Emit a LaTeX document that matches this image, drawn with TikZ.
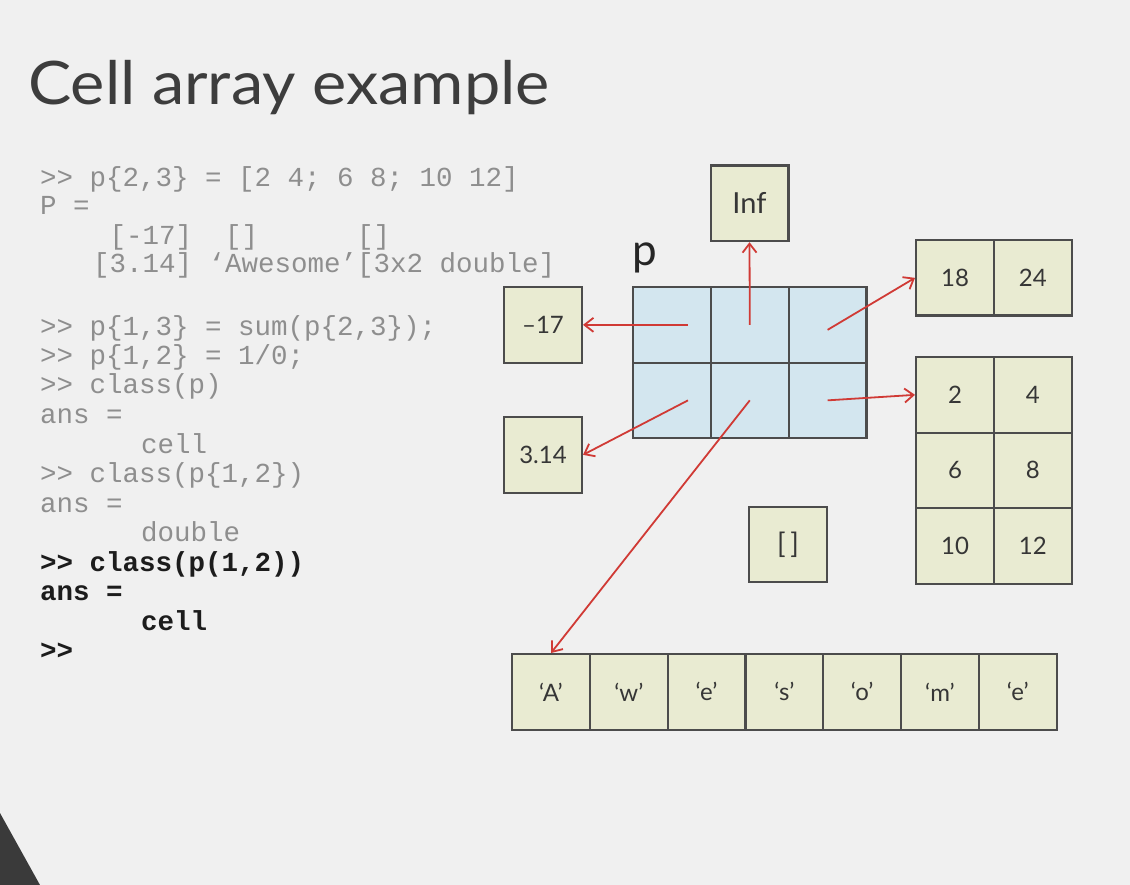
\documentclass[tikz,border=0pt]{standalone}
\usepackage{fontspec}
\setmainfont{Lato}
\newfontfamily\titlefont{Lato}[FakeStretch=1.08]
\newfontfamily\codefont{Liberation Mono}
\newfontfamily\labelfont{Lato}
\usetikzlibrary{arrows.meta}
\definecolor{slidebg}{HTML}{F0F0F0}
\definecolor{cornerdark}{HTML}{3A3A3A}
\definecolor{titlecol}{HTML}{3D3D3D}
\definecolor{codegray}{HTML}{8E8E8E}
\definecolor{codedark}{HTML}{1C1C1C}
\definecolor{boxline}{HTML}{4C4C4C}
\definecolor{khakifill}{HTML}{E9EBD2}
\definecolor{pcellfill}{HTML}{D3E6EF}
\definecolor{ptrred}{HTML}{D03A35}
\definecolor{labeltext}{HTML}{363636}
\begin{document}
\begin{tikzpicture}[x=1pt,y=-1pt,
  cellbox/.style={draw=boxline, line width=2.2pt, minimum width=77.8pt,
    minimum height=75.5pt, inner sep=0pt, anchor=north west,
    font=\labelfont\fontsize{24}{24}\selectfont, text=labeltext},
  valcell/.style={cellbox, fill=khakifill},
  pcell/.style={cellbox, fill=pcellfill},
  ptr/.style={draw=ptrred, line width=1.8pt,
    -{Straight Barb[length=9pt,width=14pt]}},
  codeline/.style={anchor=base west, inner sep=0pt,
    font=\codefont\fontsize{27.5}{27.5}\selectfont, text=codegray},
  codebold/.style={codeline, font=\codefont\bfseries\fontsize{27.5}{27.5}\selectfont, text=codedark}]

% slide background and page corner
\fill[slidebg] (0,0) rectangle (1130,885);
\useasboundingbox (0,0) rectangle (1130,885);
\fill[cornerdark] (0,813) -- (40,885) -- (0,885) -- cycle;

% title
\node[anchor=base west, inner sep=0pt, font=\titlefont\fontsize{60}{60}\selectfont,
  text=titlecol] (title) at (28,105) {Cell array example};

% command window session
\node[codeline] (l1) at (40,187) {>> p\{2,3\} = [2 4; 6 8; 10 12]};
\node[codeline] (l2) at (40,215) {P =};
\node[codeline] (l3) at (93,245) {\phantom{x}[-17]\phantom{xx}[]\phantom{xxxxxx}[]};
\node[codeline] (l4) at (93,273) {[3.14]\phantom{x}‘Awesome’[3x2 double]};
\node[codeline] (l5) at (40,335) {>> p\{1,3\} = sum(p\{2,3\});};
\node[codeline] (l6) at (40,364) {>> p\{1,2\} = 1/0;};
\node[codeline] (l7) at (40,393) {>> class(p)};
\node[codeline] (l8) at (40,423) {ans =};
\node[codeline] (l9) at (141,453) {cell};
\node[codeline] (l10) at (40,482) {>> class(p\{1,2\})};
\node[codeline] (l11) at (40,512) {ans =};
\node[codeline] (l12) at (141,541) {double};
\node[codebold] (l13) at (40,571) {>> class(p(1,2))};
\node[codebold] (l14) at (40,600) {ans =};
\node[codebold] (l15) at (141,630) {cell};
\node[codebold] (l16) at (40,659) {>>};

% the cell array p
\node[anchor=base west, inner sep=0pt, font=\fontsize{44}{44}\selectfont,
  text=black!85] (plabel) at (632,266) {p};
\node[pcell] (p11) at (632,286) {};
\node[pcell] (p12) at (709.8,286) {};
\node[pcell] (p13) at (787.6,286) {};
\node[pcell] (p21) at (632,361.5) {};
\node[pcell] (p22) at (709.8,361.5) {};
\node[pcell] (p23) at (787.6,361.5) {};

% contents of the cells
\node[valcell, font=\labelfont\fontsize{29}{29}\selectfont] (inf) at (709.5,164.5) {Inf};
\node[valcell] (m17) at (503,286) {–17};
\node[valcell] (m314) at (503,416) {3.14};
\node[valcell] (e18) at (915,239) {18};
\node[valcell] (e24) at (992.8,239) {24};
\node[valcell] (c2) at (915,356) {2};
\node[valcell] (c4) at (992.8,356) {4};
\node[valcell] (c6) at (915,431.5) {6};
\node[valcell] (c8) at (992.8,431.5) {8};
\node[valcell] (c10) at (915,507) {10};
\node[valcell] (c12) at (992.8,507) {12};
\node[valcell, font=\labelfont\fontsize{28}{28}\selectfont] (empty) at (748,505.5) {[\,]};

\begin{scope}[every node/.append style={font=\labelfont\fontsize{21}{21}\selectfont}]
\node[valcell] (sA) at (511,653) {‘A’};
\node[valcell] (sw) at (588.8,653) {‘w’};
\node[valcell] (se1) at (666.6,653) {‘e’};
\node[valcell] (ss) at (744.4,653) {‘s’};
\node[valcell] (so) at (822.2,653) {‘o’};
\node[valcell] (sm) at (900,653) {‘m’};
\node[valcell] (se2) at (977.8,653) {‘e’};
\end{scope}

% pointers from the cells to their contents
\draw[ptr] ([xshift=16pt]p11.center) -- (m17.east);
\draw[ptr] (p12.center) -- (inf.south);
\draw[ptr] ([yshift=-5pt]p13.center) -- (e18.west);
\draw[ptr] ([xshift=16pt]p21.center) -- (m314.east);
\draw[ptr] (p22.center) -- (sA.north);
\draw[ptr] (p23.center) -- (c2.west);
\end{tikzpicture}
\end{document}
